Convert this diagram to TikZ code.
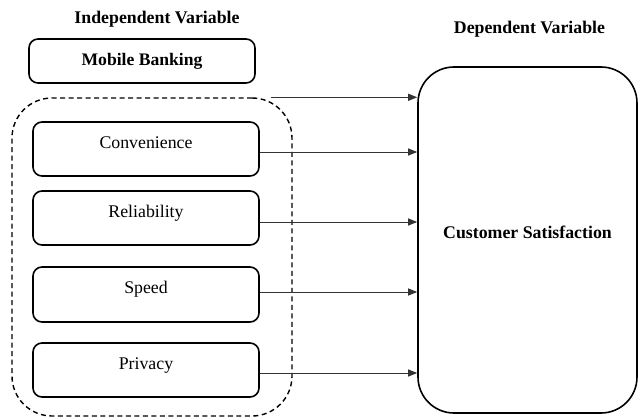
\documentclass[tikz,border=0pt]{standalone}
\usepackage{fontspec}
\setmainfont{Liberation Serif}[BoldFont={Liberation Serif Bold}]
\usetikzlibrary{arrows.meta,calc}
\tikzset{
  title/.style={font=\fontsize{17.8}{20}\selectfont\bfseries, inner sep=0pt},
  factor/.style={draw, line width=1.6pt, rounded corners=9pt, minimum width=226pt,
    minimum height=54pt, inner sep=0pt, font=\fontsize{17.8}{20}\selectfont,
    text height=12pt, text depth=14pt},
  group/.style={draw, line width=1.4pt, dash pattern=on 5pt off 3.5pt,
    rounded corners=40pt, minimum width=280pt, minimum height=318pt, inner sep=0pt},
  outcome/.style={draw, line width=1.6pt, rounded corners=36pt, minimum width=219pt,
    minimum height=346pt, inner sep=0pt, font=\fontsize{17.8}{20}\selectfont\bfseries,
    text height=12pt, text depth=16pt},
  arr/.style={line width=1pt, draw=black!80, -{Triangle[length=9pt,width=7pt]}}
}
\begin{document}
\begin{tikzpicture}[x=1pt,y=-1pt]
\useasboundingbox (0,0) rectangle (639,417);

% headings
\node[title] (indep) at (157,19) {Independent Variable};
\node[title] (dep) at (529.5,29) {Dependent Variable};

% independent side
\node[factor, minimum height=44pt, font=\fontsize{17.6}{20}\selectfont\bfseries,
      text height=, text depth=] (mb) at (142,61) {Mobile Banking};
\node[group] (dash) at (152,257) {};
\node[factor] (conv) at (146,149) {Convenience};
\node[factor] (rel) at (146,218) {Reliability};
\node[factor, minimum height=55pt] (speed) at (146,294.5) {Speed};
\node[factor] (priv) at (146,370) {Privacy};

% dependent side
\node[outcome] (cs) at (527.5,240) {Customer Satisfaction};

% connectors
\coordinate (a1) at ($(dash.north east)+(-22,0)$);
\coordinate (a2) at ([yshift=-3pt]conv.east);
\coordinate (a3) at ([yshift=-4pt]rel.east);
\coordinate (a4) at ([yshift=2.5pt]speed.east);
\coordinate (a5) at ([yshift=-3pt]priv.east);
\foreach \c in {a1,a2,a3,a4,a5}
  \draw[arr] (\c) -- (\c -| cs.west);
\end{tikzpicture}
\end{document}
